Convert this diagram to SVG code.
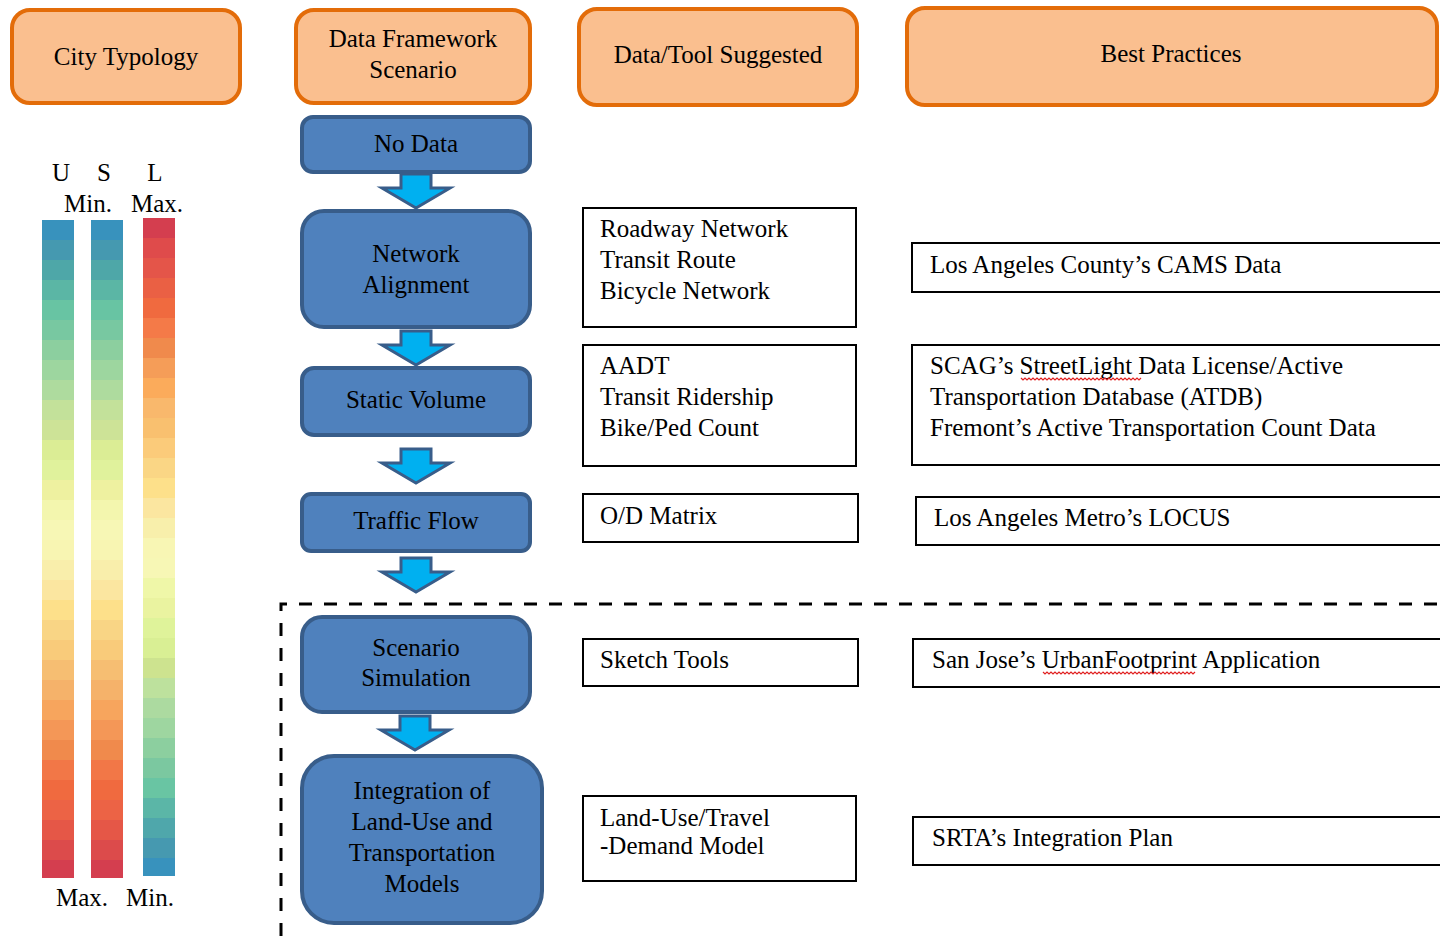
<svg xmlns="http://www.w3.org/2000/svg" xmlns:xlink="http://www.w3.org/1999/xlink" width="1440" height="936" viewBox="0 0 1440 936">
<defs>
<style>
text{font-family:"Liberation Serif","Times New Roman",serif;font-size:25px;fill:#000;}
.c{text-anchor:middle;}
.hdr{fill:#fabf8f;stroke:#e36c09;stroke-width:4;}
.blue{fill:#4f81bd;stroke:#385d8a;stroke-width:4;}
.box{fill:#fff;stroke:#000;stroke-width:2;}
.arrow{fill:#00b0f0;stroke:#385d8a;stroke-width:3;stroke-linejoin:miter;}
.squig{fill:none;stroke:#e02020;stroke-width:1.2;}
</style>
<path id="arr" class="arrow" d="M-15,0 H15 V14 H34 L0,34 L-34,14 H-15 Z"/>
<g id="barA">
<rect x="0" y="220" width="32" height="20" fill="#3892bd"/>
<rect x="0" y="240" width="32" height="20" fill="#4599b0"/>
<rect x="0" y="260" width="32" height="20" fill="#4ea7a8"/>
<rect x="0" y="280" width="32" height="20" fill="#5bb6a5"/>
<rect x="0" y="300" width="32" height="20" fill="#68c4a3"/>
<rect x="0" y="320" width="32" height="20" fill="#78c8a1"/>
<rect x="0" y="340" width="32" height="20" fill="#8ccf9f"/>
<rect x="0" y="360" width="32" height="20" fill="#9dd69f"/>
<rect x="0" y="380" width="32" height="20" fill="#aedb9e"/>
<rect x="0" y="400" width="32" height="20" fill="#c3e19a"/>
<rect x="0" y="420" width="32" height="20" fill="#cde397"/>
<rect x="0" y="440" width="32" height="20" fill="#dbed95"/>
<rect x="0" y="460" width="32" height="20" fill="#e0f29c"/>
<rect x="0" y="480" width="32" height="20" fill="#eef1a0"/>
<rect x="0" y="500" width="32" height="20" fill="#f3f6ae"/>
<rect x="0" y="520" width="32" height="20" fill="#f7f7b5"/>
<rect x="0" y="540" width="32" height="20" fill="#f8f5b2"/>
<rect x="0" y="560" width="32" height="20" fill="#f9eeab"/>
<rect x="0" y="580" width="32" height="20" fill="#fbe6a0"/>
<rect x="0" y="600" width="32" height="20" fill="#fde08a"/>
<rect x="0" y="620" width="32" height="20" fill="#f9d585"/>
<rect x="0" y="640" width="32" height="20" fill="#f9cb7a"/>
<rect x="0" y="660" width="32" height="20" fill="#f6be72"/>
<rect x="0" y="680" width="32" height="20" fill="#f5b26a"/>
<rect x="0" y="700" width="32" height="20" fill="#f7a55d"/>
<rect x="0" y="720" width="32" height="20" fill="#f49757"/>
<rect x="0" y="740" width="32" height="20" fill="#f08a4c"/>
<rect x="0" y="760" width="32" height="20" fill="#f27747"/>
<rect x="0" y="780" width="32" height="20" fill="#f06a3f"/>
<rect x="0" y="800" width="32" height="20" fill="#ec6345"/>
<rect x="0" y="820" width="32" height="20" fill="#e55747"/>
<rect x="0" y="840" width="32" height="20" fill="#dc4b4b"/>
<rect x="0" y="860" width="32" height="18" fill="#d43e4f"/>
</g>
<g id="barB">
<rect x="0" y="218" width="32" height="20" fill="#d43e4f"/>
<rect x="0" y="238" width="32" height="20" fill="#df4b4b"/>
<rect x="0" y="258" width="32" height="20" fill="#e45549"/>
<rect x="0" y="278" width="32" height="20" fill="#ea6044"/>
<rect x="0" y="298" width="32" height="20" fill="#f06a3f"/>
<rect x="0" y="318" width="32" height="20" fill="#f47a48"/>
<rect x="0" y="338" width="32" height="20" fill="#f08a4c"/>
<rect x="0" y="358" width="32" height="20" fill="#f59d58"/>
<rect x="0" y="378" width="32" height="20" fill="#fbab5b"/>
<rect x="0" y="398" width="32" height="20" fill="#f9b86c"/>
<rect x="0" y="418" width="32" height="20" fill="#f9c06f"/>
<rect x="0" y="438" width="32" height="20" fill="#fbcb7a"/>
<rect x="0" y="458" width="32" height="20" fill="#fad685"/>
<rect x="0" y="478" width="32" height="20" fill="#fde08a"/>
<rect x="0" y="498" width="32" height="20" fill="#fbe6a0"/>
<rect x="0" y="518" width="32" height="20" fill="#f8efab"/>
<rect x="0" y="538" width="32" height="20" fill="#f8f6b4"/>
<rect x="0" y="558" width="32" height="20" fill="#f7f7b5"/>
<rect x="0" y="578" width="32" height="20" fill="#eff7a8"/>
<rect x="0" y="598" width="32" height="20" fill="#eaf3a0"/>
<rect x="0" y="618" width="32" height="20" fill="#dff39a"/>
<rect x="0" y="638" width="32" height="20" fill="#d9ef94"/>
<rect x="0" y="658" width="32" height="20" fill="#cde38f"/>
<rect x="0" y="678" width="32" height="20" fill="#bde19d"/>
<rect x="0" y="698" width="32" height="20" fill="#acdaa0"/>
<rect x="0" y="718" width="32" height="20" fill="#9ed6a0"/>
<rect x="0" y="738" width="32" height="20" fill="#8ccf9f"/>
<rect x="0" y="758" width="32" height="20" fill="#7bc8a0"/>
<rect x="0" y="778" width="32" height="20" fill="#69c5a3"/>
<rect x="0" y="798" width="32" height="20" fill="#5bb6a7"/>
<rect x="0" y="818" width="32" height="20" fill="#4fa7ab"/>
<rect x="0" y="838" width="32" height="20" fill="#4699b0"/>
<rect x="0" y="858" width="32" height="18" fill="#3892bd"/>
</g>
</defs>
<rect width="1440" height="936" fill="#fff"/>

<g id="legend">
<use xlink:href="#barA" transform="translate(42,0)"/>
<use xlink:href="#barA" transform="translate(91,0)"/>
<use xlink:href="#barB" transform="translate(143,0)"/>
<text x="61" y="181" class="c">U</text>
<text x="104" y="181" class="c">S</text>
<text x="155" y="181" class="c">L</text>
<text x="88" y="212" class="c">Min.</text>
<text x="157" y="212" class="c">Max.</text>
<text x="82" y="906" class="c">Max.</text>
<text x="150" y="906" class="c">Min.</text>
</g>

<g id="hdr-city"><rect class="hdr" x="12" y="10" width="228" height="93" rx="18"/><text x="126" y="65" class="c">City Typology</text></g>
<g id="hdr-framework"><rect class="hdr" x="296" y="10" width="234" height="93" rx="18"/><text x="413" y="47" class="c">Data Framework</text><text x="413" y="78" class="c">Scenario</text></g>
<g id="hdr-data"><rect class="hdr" x="579" y="9" width="278" height="96" rx="18"/><text x="718" y="63" class="c">Data/Tool Suggested</text></g>
<g id="hdr-best"><rect class="hdr" x="907" y="8" width="530" height="97" rx="18"/><text x="1171" y="62" class="c">Best Practices</text></g>

<g id="dashed-region"><path d="M281,936 V604 H1440" fill="none" stroke="#000" stroke-width="3" stroke-dasharray="13 12"/></g>

<g id="n-nodata"><rect class="blue" x="302" y="117" width="228" height="55" rx="11"/><text x="416" y="152" class="c">No Data</text></g>
<g id="n-network"><rect class="blue" x="302" y="211" width="228" height="116" rx="22"/><text x="416" y="262" class="c">Network</text><text x="416" y="293" class="c">Alignment</text></g>
<g id="n-static"><rect class="blue" x="302" y="368" width="228" height="67" rx="12"/><text x="416" y="408" class="c">Static Volume</text></g>
<g id="n-traffic"><rect class="blue" x="302" y="494" width="228" height="57" rx="9"/><text x="416" y="529" class="c">Traffic Flow</text></g>
<g id="n-scenario"><rect class="blue" x="302" y="617" width="228" height="95" rx="20"/><text x="416" y="656" class="c">Scenario</text><text x="416" y="686" class="c">Simulation</text></g>
<g id="n-integration"><rect class="blue" x="302" y="756" width="240" height="167" rx="32"/><text x="422" y="799" class="c">Integration of</text><text x="422" y="830" class="c">Land-Use and</text><text x="422" y="861" class="c">Transportation</text><text x="422" y="892" class="c">Models</text></g>

<g id="connectors">
<use xlink:href="#arr" transform="translate(416,174)"/>
<use xlink:href="#arr" transform="translate(416,331)"/>
<use xlink:href="#arr" transform="translate(416,449)"/>
<use xlink:href="#arr" transform="translate(416,558)"/>
<use xlink:href="#arr" transform="translate(415,716)"/>
</g>

<g id="d-network"><rect class="box" x="583" y="208" width="273" height="119"/><text x="600" y="237">Roadway Network</text><text x="600" y="268">Transit Route</text><text x="600" y="299">Bicycle Network</text></g>
<g id="d-static"><rect class="box" x="583" y="345" width="273" height="121"/><text x="600" y="374">AADT</text><text x="600" y="405">Transit Ridership</text><text x="600" y="436">Bike/Ped Count</text></g>
<g id="d-od"><rect class="box" x="583" y="494" width="275" height="48"/><text x="600" y="524">O/D Matrix</text></g>
<g id="d-sketch"><rect class="box" x="583" y="639" width="275" height="47"/><text x="600" y="668">Sketch Tools</text></g>
<g id="d-landuse"><rect class="box" x="583" y="796" width="273" height="85"/><text x="600" y="826">Land-Use/Travel</text><text x="600" y="854">-Demand Model</text></g>

<g id="b-cams"><rect class="box" x="912" y="243" width="530" height="49"/><text x="930" y="273">Los Angeles County’s CAMS Data</text></g>
<g id="b-scag"><rect class="box" x="912" y="345" width="530" height="120"/><text x="930" y="374">SCAG’s StreetLight Data License/Active</text><text x="930" y="405">Transportation Database (ATDB)</text><text x="930" y="436">Fremont’s Active Transportation Count Data</text>
<path class="squig" d="M1021,378 l2,2 l2,-2 l2,2 l2,-2 l2,2 l2,-2 l2,2 l2,-2 l2,2 l2,-2 l2,2 l2,-2 l2,2 l2,-2 l2,2 l2,-2 l2,2 l2,-2 l2,2 l2,-2 l2,2 l2,-2 l2,2 l2,-2 l2,2 l2,-2 l2,2 l2,-2 l2,2 l2,-2 l2,2 l2,-2 l2,2 l2,-2 l2,2 l2,-2 l2,2 l2,-2 l2,2 l2,-2 l2,2 l2,-2 l2,2 l2,-2 l2,2 l2,-2 l2,2 l2,-2 l2,2 l2,-2 l2,2 l2,-2 l2,2 l2,-2 l2,2 l2,-2 l2,2 l2,-2 l2,2 l2,-2"/></g>
<g id="b-locus"><rect class="box" x="916" y="497" width="526" height="48"/><text x="934" y="526">Los Angeles Metro’s LOCUS</text></g>
<g id="b-sanjose"><rect class="box" x="913" y="639" width="529" height="48"/><text x="932" y="668">San Jose’s UrbanFootprint Application</text>
<path class="squig" d="M1043,672 l2,2 l2,-2 l2,2 l2,-2 l2,2 l2,-2 l2,2 l2,-2 l2,2 l2,-2 l2,2 l2,-2 l2,2 l2,-2 l2,2 l2,-2 l2,2 l2,-2 l2,2 l2,-2 l2,2 l2,-2 l2,2 l2,-2 l2,2 l2,-2 l2,2 l2,-2 l2,2 l2,-2 l2,2 l2,-2 l2,2 l2,-2 l2,2 l2,-2 l2,2 l2,-2 l2,2 l2,-2 l2,2 l2,-2 l2,2 l2,-2 l2,2 l2,-2 l2,2 l2,-2 l2,2 l2,-2 l2,2 l2,-2 l2,2 l2,-2 l2,2 l2,-2 l2,2 l2,-2 l2,2 l2,-2 l2,2 l2,-2 l2,2 l2,-2 l2,2 l2,-2 l2,2 l2,-2 l2,2 l2,-2 l2,2 l2,-2 l2,2 l2,-2 l2,2 l2,-2"/></g>
<g id="b-srta"><rect class="box" x="913" y="817" width="529" height="48"/><text x="932" y="846">SRTA’s Integration Plan</text></g>
</svg>
